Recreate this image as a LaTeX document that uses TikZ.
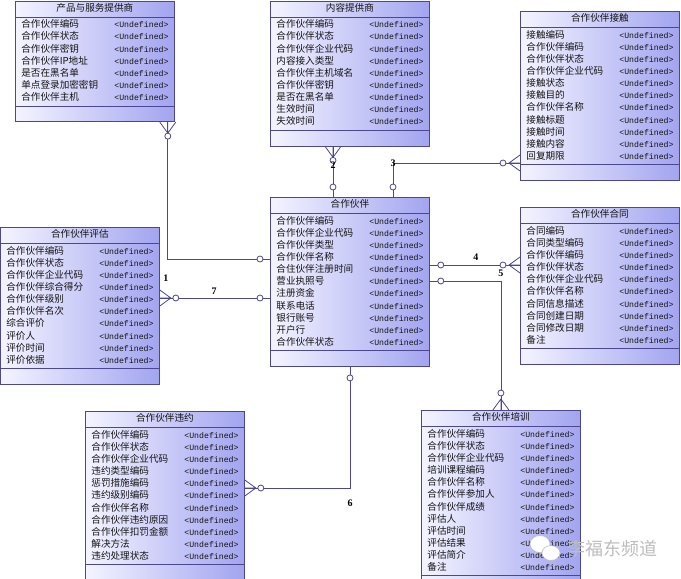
\documentclass[tikz,border=0pt]{standalone}
\usepackage{fontspec}
\setmainfont{Noto Sans CJK SC}
\newfontfamily\undeffont{Liberation Mono}
\newfontfamily\numfont{Liberation Serif}
\usetikzlibrary{shapes.multipart, calc}

\definecolor{edge}{HTML}{4B4790}
\definecolor{boxl}{HTML}{F4F4FF}
\definecolor{boxr}{HTML}{A2A4F0}
\definecolor{ink}{HTML}{141414}
\definecolor{wmark}{HTML}{BDBDBD}

% one attribute row: name + type column
\newcommand{\fld}[1]{\rule[-3pt]{0pt}{11pt}\makebox[93pt][l]{#1}%
  \makebox[54pt][l]{\undeffont\fontsize{8.2}{11}\selectfont<Undefined>}}

\begin{document}
\begin{tikzpicture}[
  x=1pt, y=-1pt,
  ent/.style={rectangle split, rectangle split parts=3, draw=edge,
              line width=0.8pt, shading=axis, left color=boxl, right color=boxr,
              text width=147pt, inner xsep=6pt, inner ysep=2pt, align=center,
              font=\fontsize{9.6}{11}\selectfont, text=ink, anchor=north west},
  link/.style={draw=edge, line width=0.8pt},
  ring/.style={draw=edge, line width=0.8pt, fill=white},
  num/.style={font=\numfont\bfseries\fontsize{10}{10}\selectfont, text=black,
              inner sep=0pt},
  crowfoot/.pic={\draw[link] (0,-8) -- (11,0) -- (0,8) (0,0) -- (11,0);},
]
\useasboundingbox (0,0) rectangle (681,579);

% ── entities ─────────────────────────────────────────────────────────────────
\node[ent] (prov) at (15,0.5)
    {\rule[-3.5pt]{0pt}{11pt}产品与服务提供商
     \nodepart{two}
     \fld{合作伙伴编码}\\ \fld{合作伙伴状态}\\ \fld{合作伙伴密钥}\\
     \fld{合作伙伴IP地址}\\ \fld{是否在黑名单}\\ \fld{单点登录加密密钥}\\
     \fld{合作伙伴主机}
     \nodepart{three}\rule{0pt}{11pt}};

\node[ent] (content) at (270,0.5)
    {\rule[-3.5pt]{0pt}{11pt}内容提供商
     \nodepart{two}
     \fld{合作伙伴编码}\\ \fld{合作伙伴状态}\\ \fld{合作伙伴企业代码}\\
     \fld{内容接入类型}\\ \fld{合作伙伴主机域名}\\ \fld{合作伙伴密钥}\\
     \fld{是否在黑名单}\\ \fld{生效时间}\\ \fld{失效时间}
     \nodepart{three}\rule{0pt}{11pt}};

\node[ent] (contact) at (520,11)
    {\rule[-3.5pt]{0pt}{11pt}合作伙伴接触
     \nodepart{two}
     \fld{接触编码}\\ \fld{合作伙伴编码}\\ \fld{合作伙伴状态}\\
     \fld{合作伙伴企业代码}\\ \fld{接触状态}\\ \fld{接触目的}\\
     \fld{合作伙伴名称}\\ \fld{接触标题}\\ \fld{接触时间}\\
     \fld{接触内容}\\ \fld{回复期限}
     \nodepart{three}\rule{0pt}{11pt}};

\node[ent] (partner) at (270,197)
    {\rule[-3.5pt]{0pt}{11pt}合作伙伴
     \nodepart{two}
     \fld{合作伙伴编码}\\ \fld{合作伙伴企业代码}\\ \fld{合作伙伴类型}\\
     \fld{合作伙伴名称}\\ \fld{合住伙伴注册时间}\\ \fld{营业执照号}\\
     \fld{注册资金}\\ \fld{联系电话}\\ \fld{银行账号}\\
     \fld{开户行}\\ \fld{合作伙伴状态}
     \nodepart{three}\rule{0pt}{11pt}};

\node[ent] (eval) at (0,227)
    {\rule[-3.5pt]{0pt}{11pt}合作伙伴评估
     \nodepart{two}
     \fld{合作伙伴编码}\\ \fld{合作伙伴状态}\\ \fld{合作伙伴企业代码}\\
     \fld{合作伙伴综合得分}\\ \fld{合作伙伴级别}\\ \fld{合作伙伴名次}\\
     \fld{综合评价}\\ \fld{评价人}\\ \fld{评价时间}\\ \fld{评价依据}
     \nodepart{three}\rule{0pt}{11pt}};

\node[ent] (contract) at (520,207)
    {\rule[-3.5pt]{0pt}{11pt}合作伙伴合同
     \nodepart{two}
     \fld{合同编码}\\ \fld{合同类型编码}\\ \fld{合作伙伴编码}\\
     \fld{合作伙伴状态}\\ \fld{合作伙伴企业代码}\\ \fld{合作伙伴名称}\\
     \fld{合同信息描述}\\ \fld{合同创建日期}\\ \fld{合同修改日期}\\ \fld{备注}
     \nodepart{three}\rule{0pt}{11pt}};

\node[ent] (breach) at (85,411)
    {\rule[-3.5pt]{0pt}{11pt}合作伙伴违约
     \nodepart{two}
     \fld{合作伙伴编码}\\ \fld{合作伙伴状态}\\ \fld{合作伙伴企业代码}\\
     \fld{违约类型编码}\\ \fld{惩罚措施编码}\\ \fld{违约级别编码}\\
     \fld{合作伙伴名称}\\ \fld{合作伙伴违约原因}\\ \fld{合作伙伴扣罚金额}\\
     \fld{解决方法}\\ \fld{违约处理状态}
     \nodepart{three}\rule{0pt}{11pt}};

\node[ent] (train) at (421,410)
    {\rule[-3.5pt]{0pt}{11pt}合作伙伴培训
     \nodepart{two}
     \fld{合作伙伴编码}\\ \fld{合作伙伴状态}\\ \fld{合作伙伴企业代码}\\
     \fld{培训课程编码}\\ \fld{合作伙伴名称}\\ \fld{合作伙伴参加人}\\
     \fld{合作伙伴成绩}\\ \fld{评估人}\\ \fld{评估时间}\\
     \fld{评估结果}\\ \fld{评估简介}\\ \fld{备注}
     \nodepart{three}\rule{0pt}{11pt}};

% ── relationships ────────────────────────────────────────────────────────────
% 1: provider -> partner
\draw[link] ($(prov.south east)+(-7,0)$) |- ($(partner.north west)+(0,62)$);
\pic[rotate=-90] at ($(prov.south east)+(-7,0)$) {crowfoot};
\draw[ring] ($(prov.south east)+(-7,14)$) circle[radius=3pt];
\draw[ring] ($(partner.north west)+(-10,62)$) circle[radius=3pt];
\node[num] (n1) at ($(prov.south east)+(-9,156)$) {1};

% 2: content provider -> partner
\draw[link] ($(content.south west)+(63,0)$) -- ($(partner.north west)+(63,0)$);
\pic[rotate=-90] at ($(content.south west)+(63,0)$) {crowfoot};
\draw[ring] ($(content.south west)+(63,14)$) circle[radius=3pt];
\draw[ring] ($(partner.north west)+(63,-10)$) circle[radius=3pt];
\node[num] (n2) at ($(partner.north west)+(63,-32)$) {2};

% 3: partner -> contact
\draw[link] ($(partner.north west)+(123,0)$) |- ($(contact.north west)+(0,152)$);
\pic[rotate=180] at ($(contact.north west)+(0,152)$) {crowfoot};
\draw[ring] ($(partner.north west)+(123,-10)$) circle[radius=3pt];
\draw[ring] ($(contact.north west)+(-17,152)$) circle[radius=3pt];
\node[num] (n3) at ($(partner.north west)+(123,-34)$) {3};

% 4: partner -> contract
\draw[link] ($(partner.north east)+(0,68)$) -- ($(contract.north west)+(0,58)$);
\pic[rotate=180] at ($(contract.north west)+(0,58)$) {crowfoot};
\draw[ring] ($(partner.north east)+(11,68)$) circle[radius=3pt];
\draw[ring] ($(contract.north west)+(-17,58)$) circle[radius=3pt];
\node[num] (n4) at ($(partner.north east)+(46,60)$) {4};

% 5: partner -> training
\draw[link] ($(partner.north east)+(0,84)$) -| (train.north);
\pic[rotate=90] at (train.north) {crowfoot};
\draw[ring] ($(partner.north east)+(11,84)$) circle[radius=3pt];
\draw[ring] ($(train.north)+(0,-17)$) circle[radius=3pt];
\node[num] (n5) at ($(train.north)+(0,-137)$) {5};

% 6: partner -> breach
\draw[link] ($(partner.south west)+(80,0)$) |- ($(breach.north east)+(0,77)$);
\pic at ($(breach.north east)+(0,77)$) {crowfoot};
\draw[ring] ($(partner.south west)+(80,11)$) circle[radius=3pt];
\draw[ring] ($(breach.north east)+(16,77)$) circle[radius=3pt];
\node[num] (n6) at ($(partner.south west)+(80,136)$) {6};

% 7: evaluation -> partner
\draw[link] ($(eval.north east)+(0,71)$) -- ($(partner.north west)+(0,101)$);
\pic at ($(eval.north east)+(0,71)$) {crowfoot};
\draw[ring] ($(eval.north east)+(16,71)$) circle[radius=3pt];
\draw[ring] ($(partner.north west)+(-10,101)$) circle[radius=3pt];
\node[num] (n7) at ($(partner.north west)+(-56,94)$) {7};

% ── watermark ────────────────────────────────────────────────────────────────
\fill[white, draw=wmark, line width=0.6pt] (540,544) ellipse (10pt and 8.5pt);
\fill[white, draw=wmark, line width=0.6pt] (551,553) ellipse (9pt and 7.5pt);
\node[font=\fontsize{18}{18}\selectfont, text=wmark, inner sep=0pt] (wm) at (612,549) {李福东频道};

\end{tikzpicture}
\end{document}
